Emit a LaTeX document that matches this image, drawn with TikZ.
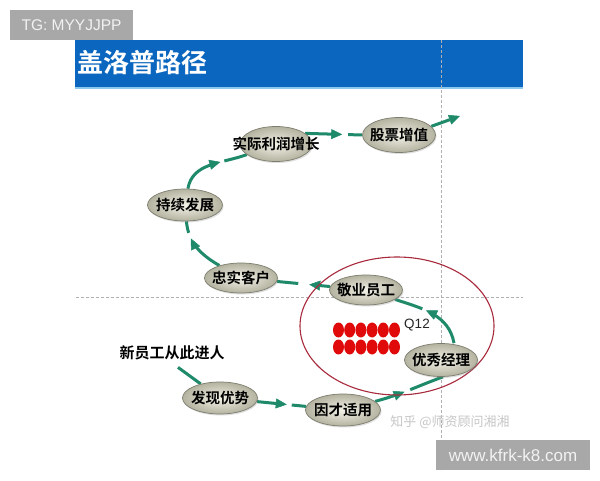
\documentclass[tikz,border=0pt]{standalone}
\usepackage{fontspec}
\setmainfont{Liberation Sans}
\newfontfamily\cjk{Noto Sans CJK SC}[BoldFont={Noto Sans CJK SC Bold}]
\usetikzlibrary{shapes.geometric,arrows.meta,decorations.markings,shadows}
\definecolor{hdrblue}{HTML}{0A66BE}
\definecolor{hdrline}{HTML}{8CC8EE}
\definecolor{flowgreen}{HTML}{1F8A6A}
\definecolor{bubin}{HTML}{F3F2E8}
\definecolor{bubout}{HTML}{B4B3A0}
\definecolor{bubedge}{HTML}{7E7E70}
\definecolor{ringred}{HTML}{A82A3C}
\definecolor{dotred}{HTML}{E00A0A}
\definecolor{guide}{HTML}{B0B0B0}
\definecolor{tagbg}{HTML}{A8A8A8}
\pgfdeclarelayer{bg}
\pgfsetlayers{bg,main}
\tikzset{
  bub/.style={ellipse, draw=bubedge, line width=0.7pt, inner sep=0pt,
    inner color=bubin, outer color=bubout, minimum width=74pt, minimum height=32pt,
    font=\cjk\bfseries\fontsize{14.5}{16}\selectfont,
    drop shadow={opacity=0.25, shadow xshift=1pt, shadow yshift=-1.5pt}},
  flow/.style n args={3}{draw=flowgreen, line width=3pt,
    dash pattern=on #1 off #2 on 800pt,
    postaction={decorate, decoration={markings,
      mark=at position #3 with {\arrow[flowgreen,line width=0.5pt,solid]{Triangle[length=11pt,width=10pt]}}}}},
  plainflow/.style={draw=flowgreen, line width=3pt},
  guideline/.style={draw=guide, line width=0.8pt, dash pattern=on 3pt off 2pt},
  tag/.style={fill=tagbg, text=white!95!black, font=\fontsize{15.5}{17}\selectfont, inner sep=0pt}
}
\begin{document}
\begin{tikzpicture}[x=1pt,y=1pt]
\useasboundingbox (0,0) rectangle (600,480);
% bubbles
\node[bub, minimum width=72pt, minimum height=35pt] (profit) at (276,336) {\makebox[0pt]{实际利润增长}};
\node[bub, minimum width=73pt, minimum height=35pt] (stock) at (399,345) {\makebox[0pt]{股票增值}};
\node[bub, minimum width=75pt, minimum height=32pt] (sust) at (185,275) {\makebox[0pt]{持续发展}};
\node[bub, minimum width=73pt, minimum height=30pt] (loyal) at (241,202) {\makebox[0pt]{忠实客户}};
\node[bub, minimum width=73pt, minimum height=30pt] (staff) at (366,190) {\makebox[0pt]{敬业员工}};
\node[bub, minimum width=73pt, minimum height=33pt] (mgr) at (441,120) {\makebox[0pt]{优秀经理}};
\node[bub, minimum width=75pt, minimum height=32pt] (find) at (220,82) {\makebox[0pt]{发现优势}};
\node[bub, minimum width=75pt, minimum height=32pt] (fit) at (343,70) {\makebox[0pt]{因才适用}};
\node[font=\cjk\bfseries\fontsize{15}{17}\selectfont, inner sep=1pt] (entry) at (172,127) {新员工从此进人};
\node[font=\fontsize{13.5}{15}\selectfont, text=black!85, inner sep=0pt] (q12) at (417,155) {Q12};
\coordinate (out) at (460,364);
% tags and watermark
\node[tag, minimum width=123pt, minimum height=30pt] (tg) at (71.5,455) {TG: MYYJJPP};
\node[tag, minimum width=154pt, minimum height=30pt, font=\fontsize{17}{19}\selectfont] (site) at (513,25) {www.kfrk-k8.com};
\node[font=\cjk\fontsize{13}{15}\selectfont, text=black!22, inner sep=0pt] (wm) at (450,58) {知乎 @师资顾问湘湘};
\begin{pgfonlayer}{bg}
\fill[white] (0,0) rectangle (600,480);
\fill[hdrblue] (75,440) rectangle (523,393);
\draw[hdrline, line width=1.5pt] (75,392) -- (523,392);
\node[anchor=west, text=white, font=\cjk\bfseries\fontsize{26}{30}\selectfont, inner sep=0pt] (title) at (77,417) {盖洛普路径};
\draw[guideline] (441,440) -- (441,10);
\draw[guideline] (76,183) -- (523,183);
% connectors
\draw[plainflow] ([xshift=6pt,yshift=-6pt]entry.south) -- (find);
\draw[flow={26pt}{9pt}{30pt}] (find) -- (fit);
\draw[flow={27pt}{10pt}{31pt}] (fit) to[out=15,in=200] ([xshift=2pt]mgr.south);
\draw[flow={41pt}{8pt}{45pt}] ([xshift=13pt]mgr.north) to[out=100,in=-18] (staff);
\draw[flow={17pt}{15pt}{21pt}] (staff) -- (loyal);
\draw[flow={36pt}{10pt}{40pt}] (loyal) to[out=150,in=-85] (sust);
\draw[flow={41pt}{8pt}{45pt}] (sust) to[out=80,in=200] (profit);
\draw[flow={33pt}{10pt}{37pt}] (profit.20) -- (stock.west);
\draw[plainflow, -{Triangle[length=11pt,width=10pt,line width=0.5pt]}] (stock.15) -- (out);
% ring and dots
\draw[ringred, line width=1.1pt] (397,154) ellipse (97 and 69);
\foreach \r in {150,133}{
  \foreach \i in {0,...,5}{
    \fill[dotred] (338.5+11.2*\i,\r) ellipse (5.5 and 7.5);
  }
}
\end{pgfonlayer}
\end{tikzpicture}
\end{document}
